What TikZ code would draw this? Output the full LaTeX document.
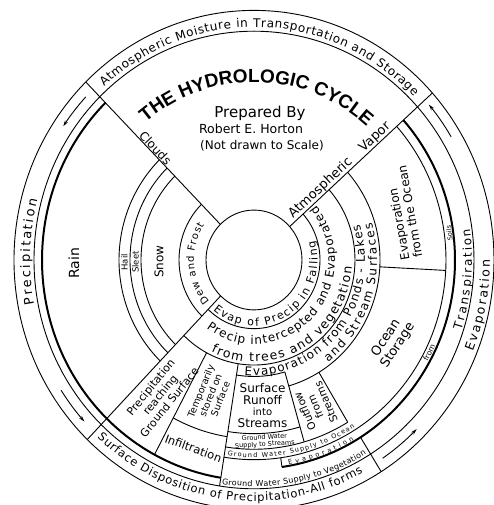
\documentclass[tikz,border=0pt]{standalone}
\usepackage{fontspec}
\setmainfont{DejaVu Sans}
\newfontfamily\titlefont{Liberation Sans}
\usetikzlibrary{decorations.text,arrows.meta}

\tikzset{
  ring/.style={line width=0.9pt},
  heavy/.style={line width=2pt},
  lbl/.style={align=center, inner sep=0.5pt},
  arclbl/.style 2 args={decorate, decoration={text along path, text align=fit to path, text={|\fontsize{#1}{#1}\selectfont|#2}}},
  arcmid/.style 2 args={decorate, decoration={text along path, text align=center, text={|\fontsize{#1}{#1}\selectfont|#2}}},
  flowarrow/.style={-{Stealth[length=6pt,width=3.5pt]}, line width=0.9pt},
}

\begin{document}
\begin{tikzpicture}[x=1pt, y=1.04pt]
  \useasboundingbox (-254,-235.6) rectangle (240,250);
  \fill[white] (-254,-235.6) rectangle (240,250);

  \draw[ring] (0,0) circle[radius=240];
  \draw[ring] (0,0) circle[radius=220];
  \draw[ring] (0,0) circle[radius=48];
  \draw[heavy] (134.5:212) arc[start angle=134.5, end angle=261, radius=212];
  \draw[heavy] (-82:201) arc[start angle=-82, end angle=42, radius=201];
  \draw[ring] (-99:192) arc[start angle=-99, end angle=42, radius=192];
  \draw[ring] (-82:192) -- (-82:201);
  \draw[ring] (-58:201) -- (-58:240);

  \draw[ring] (42:48) -- (42:240);
  \draw[ring] (134.5:48) -- (134.5:240);
  \draw[ring] (226:48) -- (226:240);
  \draw[ring] (242:101) -- (242:212);
  \draw[ring] (261:101) -- (261:220);

  \foreach \r in {75,113,124,135}
    \draw[ring] (134.5:\r) arc[start angle=134.5, end angle=226, radius=\r];
  \draw[ring] (226:66) arc[start angle=226, end angle=402, radius=66];
  \draw[ring] (226:101) arc[start angle=226, end angle=402, radius=101];
  \draw[ring] (242:172) arc[start angle=242, end angle=261, radius=172];

  \draw[ring] (261:112) arc[start angle=261, end angle=286, radius=112];
  \draw[ring] (286:126) arc[start angle=286, end angle=402, radius=126];
  \draw[ring] (286:112) -- (286:182);
  \draw[ring] (261:167) arc[start angle=261, end angle=286, radius=167];
  \draw[ring] (261:182) arc[start angle=261, end angle=301, radius=182];
  \draw[ring] (301:126) -- (301:182);
  \draw[ring] (-3:126) -- (-3:192);

  \draw[flowarrow] (137:230) arc[start angle=137, end angle=146, radius=230];
  \draw[flowarrow] (213:230) arc[start angle=213, end angle=222.5, radius=230];
  \draw[flowarrow] (304:230) arc[start angle=304, end angle=315, radius=230];
  \draw[flowarrow] (31:230) arc[start angle=31, end angle=40.5, radius=230];

  \path[decorate, decoration={text along path, text align=center,
    text={|\titlefont\bfseries\fontsize{19}{19}\selectfont|THE HYDROLOGIC CYCLE}}]
    (140:171) arc[start angle=140, end angle=38, radius=171];
  \node[lbl, font=\fontsize{15}{15}\selectfont] (prep) at (6,141) {Prepared By};
  \node[lbl, font=\fontsize{12.5}{12.5}\selectfont] (author) at (-3,126) {Robert E. Horton};
  \node[lbl, font=\fontsize{12}{12}\selectfont] (scale) at (8,110) {(Not drawn to Scale)};

  \path[arclbl={12}{Atmospheric Moisture in Transportation and Storage}] (132:224) arc[start angle=132, end angle=44.5, radius=224];
  \path[arclbl={13}{Precipitation}] (191:224) arc[start angle=191, end angle=165, radius=224];
  \path[arclbl={12.5}{Evaporation}] (-22:236) arc[start angle=-22, end angle=0, radius=236];
  \path[arclbl={11.5}{Surface Disposition of Precipitation-All forms}] (227.5:232) arc[start angle=227.5, end angle=298, radius=232];
  \path[arclbl={12}{Transpiration}] (-18:218) arc[start angle=-18, end angle=8, radius=218];
  \path[arcmid={7.5}{from}] (-35:199.5) arc[start angle=-35, end angle=-19, radius=199.5];
  \path[arcmid={6.5}{Soils}] (-1:199.5) arc[start angle=-1, end angle=16, radius=199.5];
  \path[arclbl={6.5}{Ground Water Supply to Ocean}] (-98:190) arc[start angle=-98, end angle=-58, radius=190];
  \path[arclbl={6.5}{Evaporation}] (-80:200) arc[start angle=-80, end angle=-60, radius=200];
  \path[arclbl={8}{Ground Water Supply to Vegetation}] (-98.5:218) arc[start angle=-98.5, end angle=-59, radius=218];

  \path[arclbl={11}{Evap of Precip in Falling}] (-130:63.5) arc[start angle=-130, end angle=17, radius=63.5];
  \path[arclbl={12}{Precip intercepted and Evaporated}] (-126:81) arc[start angle=-126, end angle=40, radius=81];
  \path[arclbl={12.5}{from trees and vegetation}] (-116:98) arc[start angle=-116, end angle=-4, radius=98];
  \path[arclbl={12}{Evaporation from Ponds - Lakes}] (-95:111) arc[start angle=-95, end angle=18, radius=111];
  \path[arclbl={12}{and Stream Surfaces}] (-53:123) arc[start angle=-53, end angle=17, radius=123];
  \path[arclbl={10}{Dew and Frost}] (222:60) arc[start angle=222, end angle=146, radius=60];

  \node[lbl, font=\fontsize{12}{12}\selectfont, rotate=-46.6, anchor=south] (clouds) at (134.5:146) {Clouds};
  \node[lbl, font=\fontsize{13}{13}\selectfont, rotate=43.1, anchor=south] (atmo) at (42:96) {Atmospheric};
  \node[lbl, font=\fontsize{13}{13}\selectfont, rotate=43.1, anchor=south] (vapor) at (42:169) {Vapor};

  \node[lbl, font=\fontsize{12}{12}\selectfont, rotate=90] (snow) at (181:95) {Snow};
  \node[lbl, font=\fontsize{8.5}{8.5}\selectfont, rotate=90] (sleet) at (181:118.5) {Sleet};
  \node[lbl, font=\fontsize{8.5}{8.5}\selectfont, rotate=90] (hail) at (181:129.5) {Hail};
  \node[lbl, font=\fontsize{14}{14}\selectfont, rotate=90] (rain) at (181:180) {Rain};

  \node[lbl, font=\fontsize{11}{12}\selectfont, rotate=51] (reach) at (234:160) {Precipitation\\reaching\\Ground Surface};
  \node[lbl, font=\fontsize{9.5}{10.5}\selectfont, rotate=68] (temp) at (251.5:137) {Temporarily\\stored on\\Surface};
  \node[lbl, font=\fontsize{11.5}{11.5}\selectfont, rotate=-20] (infil) at (251.5:191) {Infiltration};
  \node[lbl, font=\fontsize{12}{11.5}\selectfont] (runoff) at (273.5:140) {Surface\\Runoff\\{\fontsize{10}{10}\selectfont into}\\Streams};
  \node[lbl, font=\fontsize{6.5}{7}\selectfont, rotate=3.5, inner sep=0pt] (gwstream) at (273.5:174.5) {Ground Water\\Supply to Streams};
  \node[lbl, font=\fontsize{10.5}{11.5}\selectfont, rotate=113] (outflow) at (293.5:154) {Outflow\\from\\Streams};
  \node[lbl, font=\fontsize{12}{13}\selectfont, rotate=100, align=left] (evocean) at (16.9:156.2) {Evaporation\\from the Ocean};
  \node[lbl, font=\fontsize{13}{14}\selectfont, rotate=57] (storage) at (-29.7:158.9) {Ocean\\Storage};
\end{tikzpicture}
\end{document}
